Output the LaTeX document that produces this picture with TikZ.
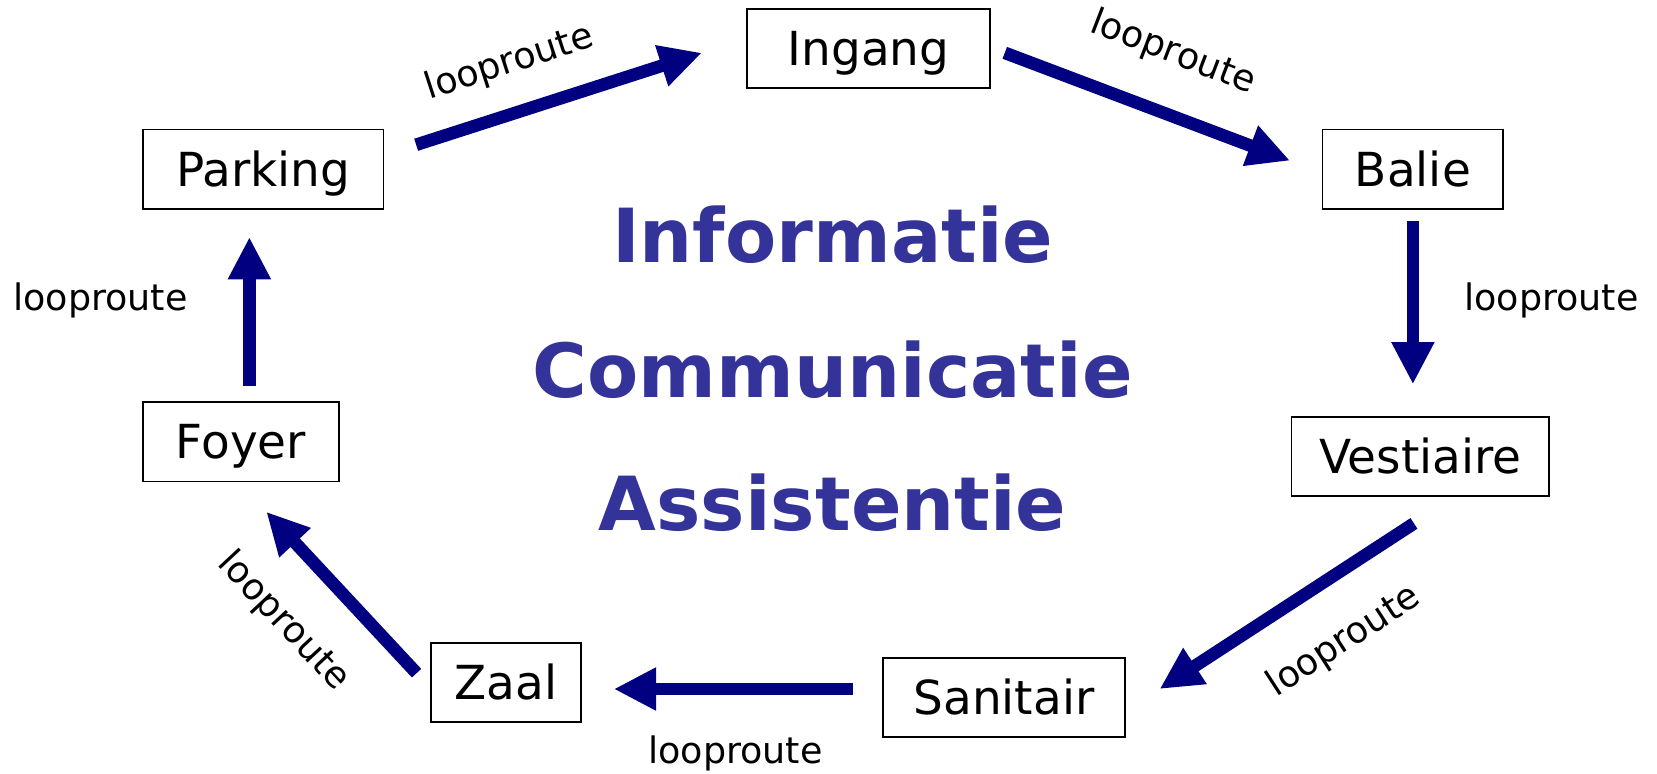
\documentclass[tikz,border=0pt]{standalone}
\usepackage{fontspec}
\setmainfont{DejaVu Sans}
\usetikzlibrary{arrows.meta,calc}
\definecolor{arrowblue}{HTML}{000080}
\definecolor{titleblue}{HTML}{333399}
\begin{document}
\begin{tikzpicture}[x=0.5pt,y=-0.5pt,
  box/.style={draw=black, line width=0.8pt, font=\fontsize{22.2}{27}\selectfont, minimum height=37.5pt, inner sep=0pt, text height=16.2pt, text depth=0pt},
  flow/.style={draw=arrowblue, line width=6pt, -{Triangle[length=20pt,width=19pt]}},
  lbl/.style={font=\fontsize{17.25}{20}\selectfont, inner sep=0pt},
  ttl/.style={font=\bfseries\fontsize{35.3}{42}\selectfont, text=titleblue, inner sep=0pt}]
\useasboundingbox (0,0) rectangle (1568,732);
\node[box, minimum width=115pt] (ingang) at (822,46) {Ingang};
\node[box, minimum width=114pt] (parking) at (249,160) {Parking};
\node[box, minimum width=85.5pt] (balie) at (1337,160) {Balie};
\node[box, minimum width=122pt] (vestiaire) at (1344,432) {Vestiaire};
\node[box, minimum width=93pt] (foyer) at (228,418) {Foyer};
\node[box, minimum width=71pt] (zaal) at (479,646) {Zaal};
\node[box, minimum width=114.5pt] (sanitair) at (950,660) {Sanitair};

\node[ttl] (t1) at (788,222) {Informatie};
\node[ttl] (t2) at (788,350) {Communicatie};
\node[ttl] (t3) at (788,476) {Assistentie};

\draw[flow] ($(parking.east)+(30,-23)$) -- ($(ingang.west)+(-42,4)$);
\draw[flow] ($(ingang.east)+(13,4)$) -- ($(balie.west)+(-30,-8)$);
\draw[flow] ($(balie.south)+(0,11)$) -- ($(vestiaire.north)+(-7,-30)$);
\draw[flow] ($(vestiaire.south)+(-6,25)$) -- ($(sanitair.east)+(32,-8)$);
\draw[flow] ($(sanitair.west)+(-28,-8)$) -- ($(zaal.east)+(30,6)$);
\draw[flow] ($(zaal.west)+(-13,-9)$) -- ($(foyer.south)+(24,28)$);
\draw[flow] ($(foyer.north)+(8,-14)$) -- ($(parking.south)+(-13,26)$);

\node[lbl, rotate=18] (l1) at (482,60) {looproute};
\node[lbl, rotate=-21] (l2) at (1110,50) {looproute};
\node[lbl] (l3) at (1468,284) {looproute};
\node[lbl, rotate=33] (l4) at (1272,607) {looproute};
\node[lbl] (l5) at (696,713) {looproute};
\node[lbl, rotate=-47] (l6) at (268,588) {looproute};
\node[lbl] (l7) at (95,284) {looproute};
\end{tikzpicture}
\end{document}
